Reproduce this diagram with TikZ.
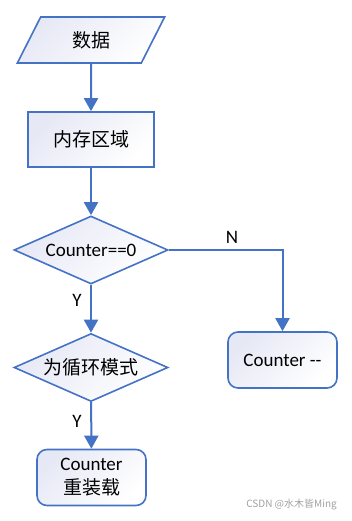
\documentclass[tikz,border=0pt]{standalone}
\usepackage{fontspec}
\setmainfont{Carlito}
\newfontfamily\cjk{Noto Sans CJK SC}
\usetikzlibrary{shapes.geometric,arrows.meta}
\definecolor{lineblue}{HTML}{4472C4}
\definecolor{fillblue}{HTML}{E6E8F5}
\definecolor{wmgray}{HTML}{A0A0A0}
\tikzset{
  shapefill/.style={draw=lineblue, line width=1.6pt, top color=fillblue, bottom color=white, shading angle=45},
  databox/.style={shapefill, trapezium, trapezium left angle=63.4, trapezium right angle=116.6, trapezium stretches=true, minimum width=148pt, minimum height=46pt, inner sep=0pt},
  procbox/.style={shapefill, rectangle, minimum width=126pt, minimum height=55pt, inner sep=0pt},
  roundbox/.style={shapefill, rectangle, rounded corners=10pt, minimum width=109pt, minimum height=56pt, inner sep=0pt, align=center},
  decbox/.style={shapefill, diamond, shape aspect=2.26, minimum width=154pt, minimum height=68pt, inner sep=0pt},
  flow/.style={draw=lineblue, line width=2pt, -{Triangle[width=14pt,length=13pt]}},
  lbl/.style={font=\fontsize{19}{22}\selectfont, inner sep=0pt},
  txt/.style={font=\fontsize{19}{25}\selectfont}
}
\begin{document}
\begin{tikzpicture}[x=1pt,y=-1pt]
\useasboundingbox (0,0) rectangle (352,521);
\node[databox, txt] (data) at (91,40) {\cjk 数据};
\node[procbox, txt] (mem) at (91,139.5) {\cjk 内存区域};
\node[decbox, txt] (cz) at (91,250) {Counter==0};
\node[decbox, txt] (loop) at (91,367.5) {\cjk 为循环模式};
\node[roundbox, txt] (reload) at (91.5,477.5) {Counter\\[-1pt]{\cjk 重装载}};
\node[roundbox, txt] (dec) at (282.5,360) {Counter -{}-};
\draw[flow] (data) -- (mem);
\draw[flow] (mem) -- (cz);
\draw[flow] (cz) -- (loop);
\draw[flow] (loop) -- (reload);
\draw[flow] (cz.east) -| (dec.north);
\node[lbl] (n) at (232,237) {N};
\node[lbl] (y1) at (77,300) {Y};
\node[lbl] (y2) at (77,421) {Y};
\node[anchor=east, text=wmgray, inner sep=0pt, font=\cjk\fontsize{10}{12}\selectfont] (wm) at (337,505) {CSDN @水木皆Ming};
\end{tikzpicture}
\end{document}
